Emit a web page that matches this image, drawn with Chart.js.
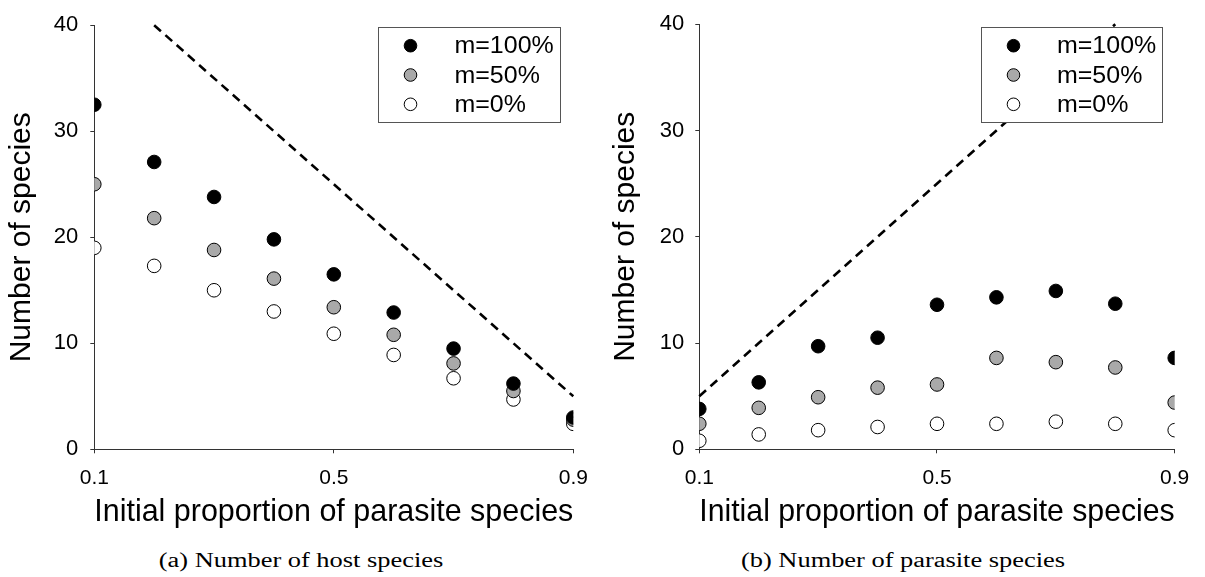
<!DOCTYPE html>
<html>
<head>
<meta charset="utf-8">
<script src="https://cdn.jsdelivr.net/npm/chart.js@4.4.1/dist/chart.umd.min.js"></script>
<style>
  body { margin: 0; background: #fff; width: 1205px; height: 577px; position: relative; overflow: hidden;
         font-family: "Liberation Sans", Arial, sans-serif; }
  canvas { position: absolute; top: 0; }
  .caption { position: absolute; top: 549px; font-family: "Liberation Serif", "Times New Roman", serif;
             font-size: 20px; line-height: 22px; color: #000; white-space: nowrap;
             transform: translateX(-50%) scaleX(1.32); }
</style>
</head>
<body>
<canvas id="hostChart" width="600" height="540" style="left:0"></canvas>
<canvas id="parasiteChart" width="605" height="540" style="left:600px"></canvas>

<script>
// x = initial proportion of parasite species
const proportions = [0.1, 0.2, 0.3, 0.4, 0.5, 0.6, 0.7, 0.8, 0.9];

// (a) number of host species
const hostM100 = [32.5, 27.1, 23.8, 19.8, 16.5, 12.9, 9.5, 6.2, 3.0];
const hostM50  = [25.0, 21.8, 18.8, 16.1, 13.4, 10.8, 8.1, 5.5, 2.8];
const hostM0   = [19.0, 17.3, 15.0, 13.0, 10.9, 8.9, 6.7, 4.7, 2.4];

// (b) number of parasite species
const parasiteM100 = [3.8, 6.3, 9.7, 10.5, 13.6, 14.3, 14.9, 13.7, 8.6];
const parasiteM50  = [2.4, 3.9, 4.9, 5.8, 6.1, 8.6, 8.2, 7.7, 4.4];
const parasiteM0   = [0.8, 1.4, 1.8, 2.1, 2.4, 2.4, 2.6, 2.4, 1.8];

// dashed reference lines (initial number of species)
const hostLimitX = [0.2, 0.9];
const hostLimitY = [40, 5];
const parasiteLimitX = [0.1, 0.8];
const parasiteLimitY = [5, 40];

const seriesLabels = ["m=100%", "m=50%", "m=0%"];
const seriesFills = ["#000000", "#a9a9a9", "#ffffff"];
const xTickValues = [0.1, 0.5, 0.9];
const yTickValues = [0, 10, 20, 30, 40];
const captions = ["(a) Number of host species", "(b) Number of parasite species"];
const xTitle = "Initial proportion of parasite species";
const yTitle = "Number of species";

const axisColor = "#333";
const toPoints = (xs, ys) => xs.map((x, i) => ({ x: x, y: ys[i] }));

// boxed legend inside the plot, painted last so it hides the dashed line
const legendBox = {
  id: "legendBox",
  afterDraw(chart) {
    const o = chart.config.options.legendBoxPos;
    const ctx = chart.ctx;
    ctx.save();
    ctx.setLineDash([]);
    ctx.fillStyle = "#ffffff";
    ctx.fillRect(o.left, o.top, o.width, o.height);
    ctx.strokeStyle = "#555";
    ctx.lineWidth = 1;
    ctx.strokeRect(o.left + 0.5, o.top + 0.5, o.width - 1, o.height - 1);
    chart.data.datasets.filter(d => d.label).forEach((d, i) => {
      const cy = o.top + 18.7 + i * 29.3;
      ctx.beginPath();
      ctx.arc(o.left + o.dotX, cy, 6.3, 0, Math.PI * 2);
      ctx.fillStyle = d.backgroundColor;
      ctx.fill();
      ctx.strokeStyle = "#000";
      ctx.stroke();
      ctx.save();
      ctx.translate(o.left + o.textX, cy + 1);
      ctx.scale(1.04, 1);
      ctx.fillStyle = "#000";
      ctx.font = "24px 'Liberation Sans'";
      ctx.textBaseline = "middle";
      ctx.fillText(d.label, 0, 0);
      ctx.restore();
    });
    ctx.restore();
  }
};

function makeChart(id, seriesList, limitX, limitY, lay) {
  const datasets = [{
    type: "line",
    data: toPoints(limitX, limitY),
    borderColor: "#000",
    borderWidth: 2.6,
    borderDash: [9, 6],
    pointRadius: 0,
    fill: false,
    clip: false
  }];
  seriesList.forEach((vals, i) => {
    datasets.push({
      type: "scatter",
      label: seriesLabels[i],
      data: toPoints(proportions, vals),
      backgroundColor: seriesFills[i],
      borderColor: "#000",
      borderWidth: 1,
      pointRadius: 6.8,
      pointHoverRadius: 6.8
    });
  });

  return new Chart(document.getElementById(id), {
    data: { datasets: datasets },
    plugins: [legendBox],
    options: {
      responsive: false,
      animation: false,
      devicePixelRatio: 1,
      legendBoxPos: lay.legend,
      layout: { padding: { top: 17, right: lay.padRight, bottom: 0, left: 0 } },
      plugins: { legend: { display: false }, tooltip: { enabled: false } },
      scales: {
        x: {
          type: "linear",
          min: 0.1, max: 0.9,
          afterBuildTicks: s => { s.ticks = xTickValues.map(v => ({ value: v })); },
          afterFit: s => { s.height = 540 - 449.3; },
          grid: { drawOnChartArea: false, drawTicks: true, tickLength: 4, color: axisColor },
          border: { display: true, color: axisColor, width: 1 },
          ticks: { color: "#000", padding: 12, maxRotation: 0, autoSkip: false,
                   font: { family: "Liberation Sans", size: 21 },
                   callback: v => Number(v).toFixed(1) },
          title: { display: true, text: xTitle, color: "#000", padding: { top: 0, bottom: 9 },
                   font: { family: "Liberation Sans", size: 30.5 } }
        },
        y: {
          type: "linear",
          min: 0, max: 40,
          afterBuildTicks: s => { s.ticks = yTickValues.map(v => ({ value: v })); },
          afterFit: s => { s.width = lay.yWidth; },
          grid: { drawOnChartArea: false, drawTicks: true, tickLength: 4, color: axisColor },
          border: { display: true, color: axisColor, width: 1 },
          ticks: { color: "#000", padding: lay.yTickPad,
                   font: { family: "Liberation Sans", size: 22 } },
          title: { display: true, text: yTitle, color: "#000", padding: { top: lay.yTitlePad, bottom: 0 },
                   font: { family: "Liberation Sans", size: 30 } }
        }
      }
    }
  });
}

function makeCaption(text, centerX) {
  const c = document.createElement("div");
  c.className = "caption";
  c.style.left = centerX + "px";
  c.textContent = text;
  document.body.appendChild(c);
}

makeChart("hostChart", [hostM100, hostM50, hostM0], hostLimitX, hostLimitY, {
  yWidth: 94.3, padRight: 26.7, yTitlePad: 4, yTickPad: 12,
  legend: { left: 378, top: 27, width: 183, height: 96, dotX: 32.5, textX: 76.5 }
});
makeChart("parasiteChart", [parasiteM100, parasiteM50, parasiteM0], parasiteLimitX, parasiteLimitY, {
  yWidth: 99.3, padRight: 30.3, yTitlePad: 8, yTickPad: 11,
  legend: { left: 381, top: 27, width: 182, height: 96, dotX: 32.5, textX: 76 }
});

makeCaption(captions[0], 300.8);
makeCaption(captions[1], 903.4);
</script>
</body>
</html>
